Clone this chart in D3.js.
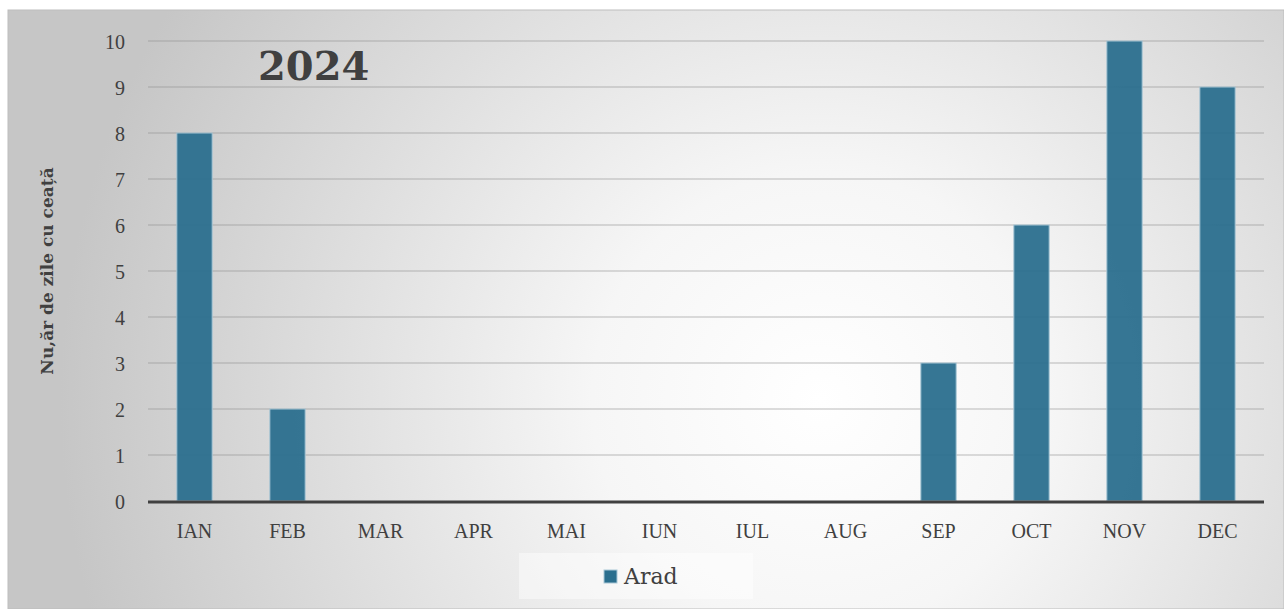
<!DOCTYPE html>
<html><head><meta charset="utf-8">
<script src="https://cdn.jsdelivr.net/npm/d3@7"></script>
<style>body{margin:0;background:#fff}svg{display:block}</style>
</head><body>
<script>
const categories = ["IAN","FEB","MAR","APR","MAI","IUN","IUL","AUG","SEP","OCT","NOV","DEC"];
const values = [8,2,0,0,0,0,0,0,3,6,10,9];
const yTicks = [0,1,2,3,4,5,6,7,8,9,10];
const seriesName = "Arad";
const title = "2024";
const yTitle = "Nu,ăr de zile cu ceață";

const W = 1284, H = 609;
const svg = d3.select("body").append("svg").attr("width", W).attr("height", H);
const defs = svg.append("defs");
const rg = defs.append("radialGradient").attr("id","bg").attr("gradientUnits","userSpaceOnUse")
  .attr("cx",820).attr("cy",400).attr("r",760);
rg.append("stop").attr("offset","0").attr("stop-color","#ffffff");
rg.append("stop").attr("offset","0.3").attr("stop-color","#f6f6f6");
rg.append("stop").attr("offset","1").attr("stop-color","#c6c6c6");
svg.append("rect").attr("x",8).attr("y",10).attr("width",W-8).attr("height",H-10)
  .attr("fill","url(#bg)").attr("stroke","#bdbdbd").attr("stroke-width",1);

const x0 = 148, x1 = 1264;
const x = d3.scaleBand().domain(categories).range([x0,x1]).paddingInner(0.62).paddingOuter(0.31);
const y = d3.scaleLinear().domain([0,10]).range([501,41]);

const font = "'Liberation Serif', serif";
const tfont = "'DejaVu Serif', serif";
// gridlines
svg.append("g").selectAll("line").data(yTicks.filter(d=>d>0)).join("line")
  .attr("x1",x0).attr("x2",x1).attr("y1",d=>y(d)).attr("y2",d=>y(d))
  .attr("stroke","#8f8f8f").attr("stroke-opacity",0.6).attr("stroke-width",1.2);

// y axis labels
const ya = svg.append("g").attr("transform","translate(125,0)").call(d3.axisLeft(y).tickValues(yTicks).tickSize(0).tickPadding(0).tickFormat(d3.format("d")));
ya.select(".domain").remove();
ya.selectAll("text").attr("font-family",font).attr("font-size",20).attr("fill","#404040").attr("dy","0.36em");

// bars
svg.append("g").selectAll("rect").data(categories.map((c,i)=>({c,v:values[i]})).filter(d=>d.v>0)).join("rect")
  .attr("x",d=>x(d.c)).attr("width",x.bandwidth()).attr("y",d=>y(d.v)).attr("height",d=>y(0)-y(d.v))
  .attr("fill","#2b6f8e").attr("fill-opacity",0.95).attr("stroke","#a9c7d6").attr("stroke-width",1);

// baseline
svg.append("line").attr("x1",x0).attr("x2",x1).attr("y1",y(0)+1).attr("y2",y(0)+1)
  .attr("stroke","#404040").attr("stroke-width",3);

// x axis labels
const xa = svg.append("g").attr("transform","translate(0,524)").call(d3.axisBottom(x).tickSize(0).tickPadding(0));
xa.select(".domain").remove();
xa.selectAll("text").attr("font-family",font).attr("font-size",20).attr("fill","#404040").attr("dy","0.71em");

// title
svg.append("text").attr("x",258).attr("y",80).attr("font-family",tfont).attr("font-weight","bold")
  .attr("font-size",40).attr("fill","#404040").text(title);

// y title
svg.append("text").attr("transform","translate(53,271) rotate(-90)").attr("text-anchor","middle")
  .attr("font-family",tfont).attr("font-weight","bold").attr("font-size",17).attr("fill","#404040").text(yTitle);

// legend
svg.append("rect").attr("x",519).attr("y",553).attr("width",234).attr("height",46).attr("fill","#ffffff").attr("fill-opacity",0.45);
svg.append("rect").attr("x",604).attr("y",570).attr("width",13).attr("height",13).attr("fill","#2b6f8e").attr("stroke","#a9c7d6").attr("stroke-width",1);
svg.append("text").attr("x",624).attr("y",584).attr("font-family",tfont).attr("font-size",22).attr("fill","#404040").text(seriesName);
</script>
</body></html>
